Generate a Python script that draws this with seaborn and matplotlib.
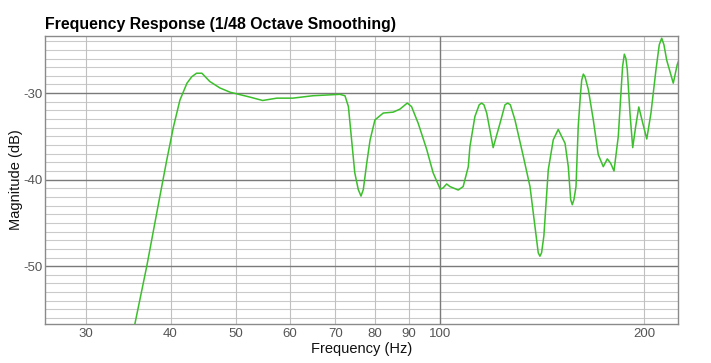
import matplotlib
matplotlib.use("Agg")
import matplotlib.pyplot as plt
import seaborn as sns
from matplotlib.ticker import FixedLocator, NullFormatter

# Values (frequency in Hz, magnitude in dB).
FREQ_HZ = [
    35.2, 36.9, 38.5, 39.5, 40.4, 41.3, 42.3, 43.0, 43.7, 44.5,
    45.7, 47.3, 49.0, 52.4, 54.7, 57.4, 60.6, 64.9, 68.75, 71.1,
    72.35, 73.2, 74.0, 74.8, 75.7, 76.4, 77.0, 77.9, 78.8, 80.1,
    82.4, 85.2, 87.2, 89.4, 90.7, 92.8, 95.5, 97.6, 100.0, 101.0,
    102.2, 103.35, 106.3, 108.1, 110.0, 110.6, 112.5, 114.15, 115.1, 116.0,
    117.1, 119.7, 122.5, 124.6, 125.75, 126.9, 128.9, 132.6, 135.65, 137.95,
    139.5, 140.3, 141.1, 142.2, 144.35, 146.8, 149.3, 152.8, 154.5, 155.75,
    156.6, 157.5, 158.6, 159.8, 161.0, 161.7, 162.6, 163.5, 165.4, 168.2,
    171.05, 174.0, 176.4, 178.4, 180.45, 183.1, 185.25, 185.8, 186.9, 187.9,
    188.8, 190.5, 192.3, 194.25, 196.3, 198.95, 201.7, 204.6, 208.1, 210.45,
    212.2, 213.8, 215.85, 220.7, 223.7, 226.0,
]
MAGNITUDE_DB = [
    -57.8, -50.0, -42.3, -37.7, -33.9, -30.8, -28.85, -28.1, -27.7, -27.7,
    -28.65, -29.4, -29.9, -30.46, -30.85, -30.58, -30.58, -30.3, -30.2, -30.14,
    -30.3, -31.55, -35.4, -39.2, -41.15, -41.9, -41.15, -38.1, -35.4, -33.1,
    -32.3, -32.2, -31.85, -31.15, -31.55, -33.5, -36.5, -39.2, -41.1, -40.95,
    -40.5, -40.8, -41.2, -40.8, -38.5, -36.2, -32.7, -31.35, -31.15, -31.35,
    -32.3, -36.3, -33.5, -31.35, -31.15, -31.35, -33.1, -37.3, -40.8, -45.4,
    -48.45, -48.85, -48.45, -46.5, -38.85, -35.4, -34.2, -35.8, -38.5, -42.3,
    -42.9, -42.3, -40.8, -33.85, -30.2, -28.5, -27.8, -28.1, -29.6, -33.1,
    -37.1, -38.5, -37.6, -38.1, -39.0, -35.0, -28.5, -26.9, -25.5, -26.0,
    -27.3, -32.3, -36.3, -33.85, -31.6, -33.45, -35.3, -32.3, -27.3, -24.4,
    -23.65, -24.4, -26.2, -28.85, -26.7, -25.8,
]

X_LABELED = [30, 40, 50, 60, 70, 80, 90, 100, 200]
X_LABELS = ["30", "40", "50", "60", "70", "80", "90", "100", "200"]
X_MINOR = [30, 40, 50, 60, 70, 80, 90, 200]
Y_MAJOR = [-50, -40, -30]
Y_MINOR = [v for v in range(-56, -23) if v % 10 != 0]


def main() -> None:
    sns.set_style("white")
    plt.rcParams["font.family"] = ["Liberation Sans", "DejaVu Sans"]

    fig = plt.figure(figsize=(7.11, 3.63), dpi=100)
    ax = fig.add_axes([0.0637, 0.1066, 0.8903, 0.7951])

    ax.set_xscale("log")
    ax.set_xlim(26.14, 224.5)
    ax.set_ylim(-56.72, -23.36)

    # Grid: light lines for the fine divisions, darker ones for decades / 10 dB.
    for y in Y_MINOR:
        ax.axhline(y, color="#cacaca", lw=0.8, zorder=0)
    for x in X_MINOR:
        ax.axvline(x, color="#c0c0c0", lw=0.8, zorder=0)
    for y in Y_MAJOR:
        ax.axhline(y, color="#7a7a7a", lw=1.0, zorder=1)
    ax.axvline(100, color="#7a7a7a", lw=1.0, zorder=1)

    sns.lineplot(x=FREQ_HZ, y=MAGNITUDE_DB, color="#3cbf2c", lw=1.1, ax=ax, zorder=3)

    ax.xaxis.set_major_locator(FixedLocator(X_LABELED))
    ax.set_xticklabels(X_LABELS)
    ax.xaxis.set_minor_locator(FixedLocator([]))
    ax.xaxis.set_minor_formatter(NullFormatter())
    ax.set_yticks(Y_MAJOR)
    ax.set_yticklabels([str(v) for v in Y_MAJOR])
    ax.tick_params(axis="both", length=0, labelsize=9.5, labelcolor="#555555")
    ax.tick_params(axis="y", pad=2)
    ax.tick_params(axis="x", pad=3)

    for spine in ax.spines.values():
        spine.set_color("#8a8a8a")
        spine.set_linewidth(1.0)

    ax.set_xlabel("Frequency (Hz)", fontsize=10.5, color="#111111", labelpad=1)
    ax.set_ylabel("Magnitude (dB)", fontsize=10.5, color="#111111", labelpad=0)
    ax.set_title("Frequency Response (1/48 Octave Smoothing)", loc="left",
                 fontsize=11.4, fontweight="bold", color="#000000", pad=5)

    fig.savefig("out.png", dpi=100)
    plt.close(fig)


if __name__ == "__main__":
    main()
